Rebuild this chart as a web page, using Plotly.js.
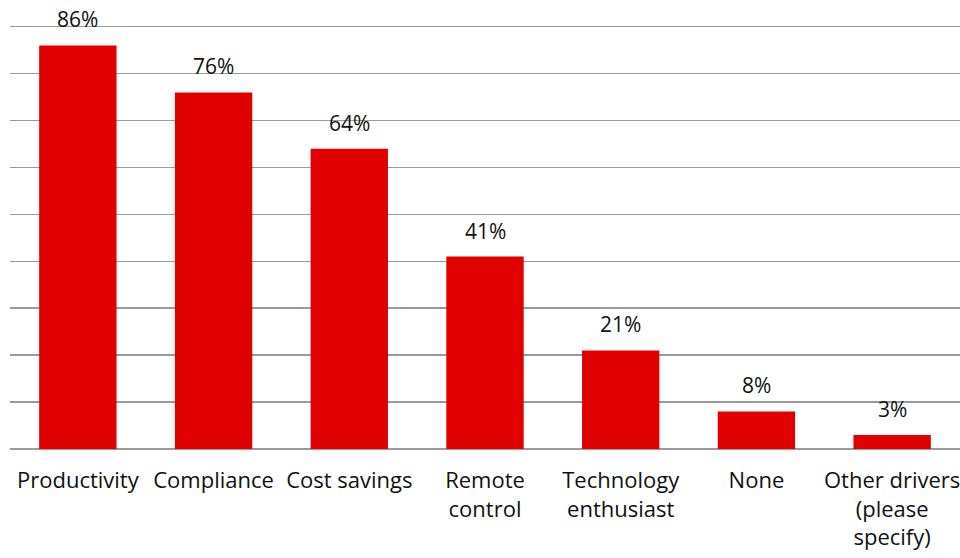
<!DOCTYPE html>
<html><head><meta charset="utf-8">
<script src="https://cdn.plot.ly/plotly-3.0.1.min.js"></script>
<style>html,body{margin:0;padding:0;background:#fff}</style>
</head><body><div id="chart" style="width:960px;height:558px"></div>
<script>
var categories = ["Productivity","Compliance","Cost savings","Remote<br>control","Technology<br>enthusiast","None","Other drivers<br>(please<br>specify)"];
var values = [86, 76, 64, 41, 21, 8, 3];
var labels = ["86%","76%","64%","41%","21%","8%","3%"];

var font = "Open Sans, sans-serif";
var trace = {type:"bar", x:categories, y:values, marker:{color:"#E00000"}, hoverinfo:"none"};
var annotations = categories.map(function(c,i){
  return {x:c, y:values[i], text:labels[i], showarrow:false, yanchor:"bottom", yshift:10,
          font:{family:font, size:21, color:"#111"}};
});
var layout = {
  width:960, height:558,
  margin:{l:10, r:0, t:22, b:109},
  paper_bgcolor:"#fff", plot_bgcolor:"#fff",
  bargap:0.43,
  showlegend:false,
  font:{family:font, size:22, color:"#111"},
  xaxis:{showgrid:false, showline:false, ticks:"", ticklabelstandoff:16, tickfont:{family:font,size:22,color:"#111"}},
  yaxis:{range:[0,91], dtick:10, showticklabels:false, showgrid:true, gridcolor:"#9a9a9a", gridwidth:1.5, zeroline:true, zerolinecolor:"#9a9a9a", zerolinewidth:1.5, showline:false, ticks:""},
  annotations:annotations
};
Plotly.newPlot("chart",[trace],layout,{displayModeBar:false, staticPlot:true});
</script></body></html>
